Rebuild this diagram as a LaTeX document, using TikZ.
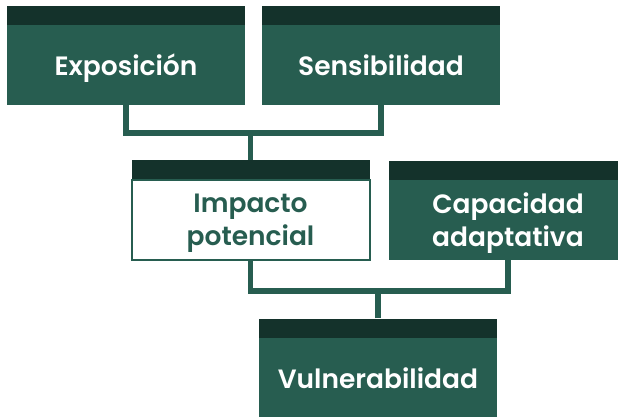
\documentclass[tikz,border=0pt]{standalone}
\usepackage{fontspec}
\setmainfont{Poppins}[BoldFont={Poppins SemiBold}]
\usetikzlibrary{positioning}
\definecolor{vgreen}{HTML}{275D50}
\definecolor{vdark}{HTML}{14322B}
\tikzset{
  box/.style={rectangle, minimum width=238pt, minimum height=80pt, inner sep=0pt, align=center, text depth=0pt,
    font=\fontsize{26.5}{33}\selectfont\bfseries, fill=#1, text=white},
  box/.default=vgreen,
  hollow/.style={box=white, draw=vgreen, line width=2pt, text=vgreen},
  band/.style={rectangle, minimum width=238pt, minimum height=19pt, inner sep=0pt, fill=vdark, above=0pt of #1},
  wire/.style={draw=vgreen, line width=5.5pt},
}

\begin{document}
\begin{tikzpicture}[x=1pt,y=-1pt]
  \useasboundingbox (0,0) rectangle (618,416);
  \clip (0,0) rectangle (618,416);
  \node[box] (expo) at (126,65) {Exposición};
  \node[box] (sens) at (381,65) {Sensibilidad};
  \node[hollow] (imp) at (250.5,220) {Impacto\\potencial};
  \node[box] (cap) at (508,220) {Capacidad\\adaptativa};
  \node[box] (vul) at (378,378) {Vulnerabilidad};
  \foreach \n in {expo,sens,imp,cap,vul} \node[band=\n] (\n-top) {};
  % connectors
  \draw[wire] (expo.south) -- ++(0,28) coordinate (j1) -| (sens.south);
  \draw[wire] (imp-top.north) -- (imp-top.north |- j1);
  \draw[wire] (imp.south) -- ++(0,30) coordinate (j2) -| (cap.south);
  \draw[wire] (vul-top.north) -- (vul-top.north |- j2);
\end{tikzpicture}
\end{document}
